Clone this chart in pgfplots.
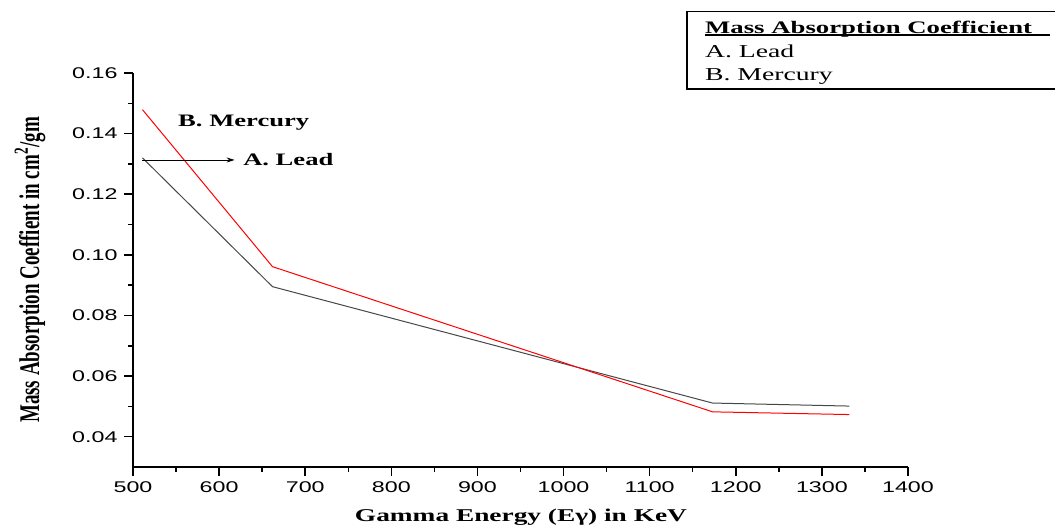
\documentclass[border=0pt]{standalone}
\usepackage{fontspec}
\setmainfont{Liberation Serif}
\newfontfamily\wserif[FakeStretch=1.52]{Liberation Serif}
\newfontfamily\wsans[FakeStretch=1.5]{Liberation Sans}
\usepackage{pgfplots}
\pgfplotsset{compat=1.18}
\usetikzlibrary{arrows.meta}
\begin{document}
\begin{tikzpicture}
\begin{axis}[
  at={(133bp,59bp)}, anchor=south west,
  scale only axis, width=775bp, height=394bp,
  xmin=500, xmax=1400, ymin=0.03, ymax=0.16,
  axis x line*=bottom, axis y line*=left,
  axis line style={line width=2.2bp, -},
  xtick={500,600,700,800,900,1000,1100,1200,1300,1400},
  minor xtick={550,650,750,850,950,1050,1150,1250,1350},
  ytick={0.04,0.06,0.08,0.10,0.12,0.14,0.16},
  minor ytick={0.05,0.07,0.09,0.11,0.13,0.15},
  tick align=outside,
  major tick length=9bp, minor tick length=5bp,
  tick style={line width=1.5bp, black},
  /pgf/number format/assume math mode=true,
  xticklabel style={font=\wsans\fontsize{15.5bp}{17bp}\selectfont, yshift=-2bp, /pgf/number format/1000 sep={}},
  yticklabel style={font=\wsans\fontsize{15.5bp}{17bp}\selectfont, xshift=-3bp, /pgf/number format/.cd, fixed, fixed zerofill, precision=2},
  xlabel={\wserif\bfseries Gamma Energy (Eγ) in KeV},
  xlabel style={font=\fontsize{18bp}{20bp}\selectfont, at={(axis description cs:0.5006,-0.127)}, anchor=center},
  ylabel={\scalebox{1}[1.5]{\bfseries Mass Absorption Coeffient in cm\textsuperscript{2}/gm}},
  ylabel style={font=\fontsize{19bp}{21bp}\selectfont, at={(axis description cs:-0.133,0.5)}, anchor=center},
  clip=false,
]
\addplot[color=black!72, line width=1bp] coordinates {(511,0.1320) (662,0.0895) (1173,0.0511) (1332,0.0501)};
\addplot[color=red, line width=1bp] coordinates {(511,0.1479) (662,0.0961) (1173,0.0482) (1332,0.0473)};
\draw[-{Stealth[length=8bp,width=5bp]}, line width=0.9bp] (axis cs:511,0.1313) -- (axis cs:618,0.1313);
\node[anchor=base west, inner sep=0pt, font=\wserif\bfseries\fontsize{17.5bp}{20bp}\selectfont] at (axis cs:627.8,0.1296) {A. Lead};
\node[anchor=base west, inner sep=0pt, font=\wserif\bfseries\fontsize{17.5bp}{20bp}\selectfont] at (axis cs:552.3,0.1424) {B. Mercury};
\end{axis}
% legend box
\draw[line width=1.3bp] (687bp,514.3bp) rectangle (1062bp,437bp);
\node[anchor=base west, inner sep=0pt, font=\wserif\bfseries\fontsize{17.6bp}{20bp}\selectfont] at (705bp,492.7bp) {Mass Absorption Coefficient};
\draw[line width=1.4bp] (705bp,491bp) -- (1050bp,491bp);
\node[anchor=base west, inner sep=0pt, font=\wserif\fontsize{18.2bp}{20bp}\selectfont] at (705bp,468.7bp) {A. Lead};
\node[anchor=base west, inner sep=0pt, font=\wserif\fontsize{18.2bp}{20bp}\selectfont] at (705bp,445.3bp) {B. Mercury};
\pgfresetboundingbox
\path (0,0) rectangle (1055bp,526bp);
\end{tikzpicture}
\end{document}
